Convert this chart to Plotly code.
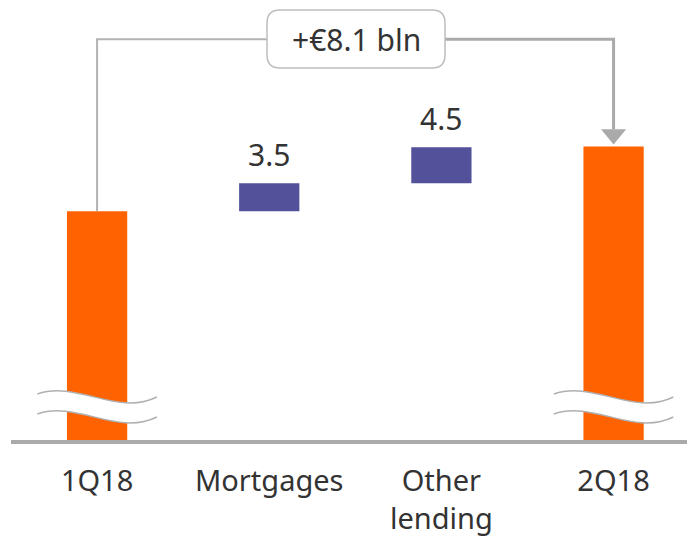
import plotly.graph_objects as go

# ---- data ----
categories = ["1Q18", "Mortgages", "Other<br>lending", "2Q18"]
start_value = 28.6          # 1Q18 height above the axis break (bln)
changes = [3.5, 4.5]        # Mortgages, Other lending
total_change = 8.1          # +€8.1 bln
change_labels = ["3.5", "4.5"]
total_label = "+€8.1 bln"

end_value = start_value + total_change
bases = [0, start_value, start_value + changes[0], 0]
heights = [start_value, changes[0], changes[1], end_value]
tops = [b + h for b, h in zip(bases, heights)]

ORANGE = "#FF6200"
BLUE = "#525199"
GREY = "#b3b3b3"
TEXT = "#333333"
FONT = "Noto Sans"

colors = [ORANGE, BLUE, BLUE, ORANGE]

fig = go.Figure()
fig.add_trace(go.Bar(
    x=list(range(4)), y=heights, base=bases,
    marker=dict(color=colors, line=dict(width=0)),
    width=0.35, hoverinfo="skip",
))

# value labels above the change bars
annotations = []
for i, lab in zip([1, 2], change_labels):
    annotations.append(dict(x=i, y=tops[i], text=lab, showarrow=False,
                            yanchor="middle", yshift=29,
                            font=dict(family=FONT, size=30, color=TEXT)))

shapes = []
# bracket geometry (data units)
bracket_y = 50.1
box_x0, box_x1 = 0.987, 2.021
box_y0, box_y1 = 46.5, 53.75
rx, ry = 0.0755, 1.625

# left bracket line
shapes.append(dict(type="path",
                   path=f"M 0 {tops[0]} L 0 {bracket_y} L {box_x0} {bracket_y}",
                   line=dict(color=GREY, width=2), layer="above"))
# right bracket line
arrow_tip = end_value + 0.25
arrow_base = arrow_tip + 1.9
shapes.append(dict(type="path",
                   path=f"M {box_x1} {bracket_y} L 3 {bracket_y} L 3 {arrow_base}",
                   line=dict(color="#aaaaaa", width=3), layer="above"))
# arrow head
hw = 0.073
shapes.append(dict(type="path",
                   path=f"M {3-hw} {arrow_base} L {3+hw} {arrow_base} L 3 {arrow_tip} Z",
                   fillcolor="#aaaaaa", line=dict(width=0), layer="above"))
# rounded box
p = (f"M {box_x0+rx} {box_y1} L {box_x1-rx} {box_y1} "
     f"Q {box_x1} {box_y1} {box_x1} {box_y1-ry} L {box_x1} {box_y0+ry} "
     f"Q {box_x1} {box_y0} {box_x1-rx} {box_y0} L {box_x0+rx} {box_y0} "
     f"Q {box_x0} {box_y0} {box_x0} {box_y0+ry} L {box_x0} {box_y1-ry} "
     f"Q {box_x0} {box_y1} {box_x0+rx} {box_y1} Z")
shapes.append(dict(type="path", path=p, fillcolor="white",
                   line=dict(color="#bdbdbd", width=1.5), layer="above"))
annotations.append(dict(x=(box_x0+box_x1)/2, y=bracket_y, text=total_label,
                        showarrow=False, yanchor="middle", xanchor="center",
                        font=dict(family=FONT, size=30, color=TEXT)))

# axis-break waves on the two total bars
def wave(cx, y0, y1, a, b, half=0.347):
    x0, x1 = cx - half, cx + half
    w = x1 - x0
    return (x0, y0, x0 + w/3, a, x0 + 2*w/3, b, x1, y1)

for cx in [0, 3]:
    up = wave(cx, 5.75, 5.38, 7.5, 2.9)
    lo = wave(cx, 3.25, 2.88, 5.0, 0.4)
    fillp = (f"M {up[0]} {up[1]} C {up[2]} {up[3]} {up[4]} {up[5]} {up[6]} {up[7]} "
             f"L {lo[6]} {lo[7]} C {lo[4]} {lo[5]} {lo[2]} {lo[3]} {lo[0]} {lo[1]} Z")
    shapes.append(dict(type="path", path=fillp, fillcolor="white",
                       line=dict(width=0), layer="above"))
    for wv in (up, lo):
        shapes.append(dict(type="path",
                           path=f"M {wv[0]} {wv[1]} C {wv[2]} {wv[3]} {wv[4]} {wv[5]} {wv[6]} {wv[7]}",
                           line=dict(color="#b0b0b0", width=1.5), layer="above"))

fig.update_layout(
    width=687, height=530,
    margin=dict(l=3, r=0, t=0, b=98),
    plot_bgcolor="white", paper_bgcolor="white",
    showlegend=False, hovermode=False,
    shapes=shapes, annotations=annotations,
    xaxis=dict(range=[-0.5, 3.473], tickmode="array",
               tickvals=list(range(4)), ticktext=categories,
               showgrid=False, zeroline=False, showline=True,
               linecolor="#aaaaaa", linewidth=4,
               ticks="outside", ticklen=12, tickcolor="rgba(0,0,0,0)",
               tickfont=dict(family=FONT, size=29, color=TEXT),
               fixedrange=True),
    yaxis=dict(range=[0, 54], visible=False, fixedrange=True),
)

fig.write_html("out.html")
